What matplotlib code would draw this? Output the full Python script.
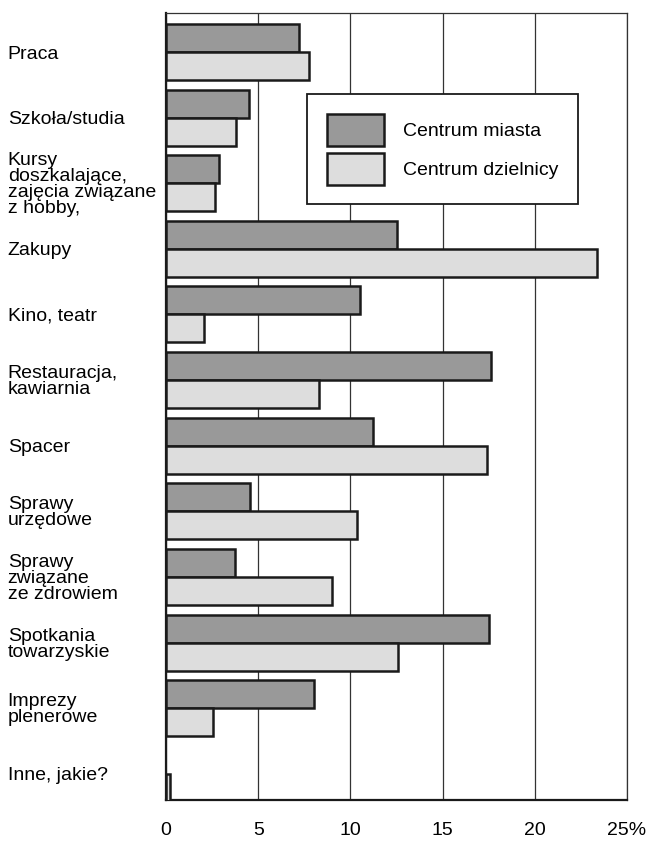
import matplotlib
matplotlib.use('Agg')
import numpy as np
from matplotlib import pyplot as plt
from matplotlib.patches import Patch

plt.rcParams['font.family'] = ['Liberation Sans', 'DejaVu Sans']

categories = ['Praca', 'Szkoła/studia',
              'Kursy\ndoszkalające,\nzajęcia związane\nz hobby,',
              'Zakupy', 'Kino, teatr', 'Restauracja,\nkawiarnia', 'Spacer',
              'Sprawy\nurzędowe', 'Sprawy\nzwiązane\nze zdrowiem',
              'Spotkania\ntowarzyskie', 'Imprezy\nplenerowe', 'Inne, jakie?']
centrum_miasta = [7.2, 4.5, 2.9, 12.5, 10.5, 17.6, 11.2, 4.55, 3.75, 17.5, 8.0, 0.0]
centrum_dzielnicy = [7.75, 3.8, 2.65, 23.4, 2.05, 8.3, 17.4, 10.35, 9.0, 12.6, 2.55, 0.2]
xticks = [0, 5, 10, 15, 20, 25]
xtick_labels = ['0', '5', '10', '15', '20', '25%']

dark = '#999999'
light = '#dddddd'
edge = '#1a1a1a'
fs = 14

fig = plt.figure(figsize=(6.48, 8.41), dpi=100)
ax = fig.add_axes([166 / 648, 41 / 841, 461 / 648, 787 / 841])

y = np.arange(len(categories))
h = 0.427
b1 = ax.barh(y - h / 2, centrum_miasta, height=h, color=dark, edgecolor=edge, linewidth=1.8, zorder=3)
b2 = ax.barh(y + h / 2, centrum_dzielnicy, height=h, color=light, edgecolor=edge, linewidth=1.8, zorder=3)
# zero-length bars should not leave an outline
for bar in list(b1) + list(b2):
    if bar.get_width() == 0:
        bar.set_visible(False)

ax.set_xlim(0, 25)
ax.set_ylim(11.40, -0.595)

# vertical grid lines
ax.set_xticks(xticks)
ax.set_xticklabels(xtick_labels, fontsize=fs)
ax.xaxis.grid(True, color='#333333', linewidth=0.9, zorder=0)
ax.set_axisbelow(True)
ax.tick_params(axis='x', length=0, pad=16)

ax.set_yticks(y)
ax.set_yticklabels(categories, fontsize=fs, ha='left', linespacing=0.93)
ax.tick_params(axis='y', length=0, pad=114)

for side in ['top', 'right']:
    ax.spines[side].set_linewidth(0.9)
    ax.spines[side].set_color('#333333')
for side in ['left', 'bottom']:
    ax.spines[side].set_linewidth(1.6)
    ax.spines[side].set_color('#1a1a1a')

handles = [Patch(facecolor=dark, edgecolor=edge, linewidth=1.8),
           Patch(facecolor=light, edgecolor=edge, linewidth=1.8)]
leg = ax.legend(handles, ['Centrum miasta', 'Centrum dzielnicy'],
                loc='upper left', bbox_to_anchor=(0.306, 0.897), borderaxespad=0,
                fontsize=fs, frameon=True, fancybox=False, handlelength=2.95,
                handleheight=2.16, handletextpad=1.0, borderpad=1.0,
                labelspacing=0.36)
leg.get_frame().set_edgecolor('#1a1a1a')
leg.get_frame().set_linewidth(1.3)
leg.get_frame().set_alpha(1)

plt.savefig('out.png', dpi=100)
